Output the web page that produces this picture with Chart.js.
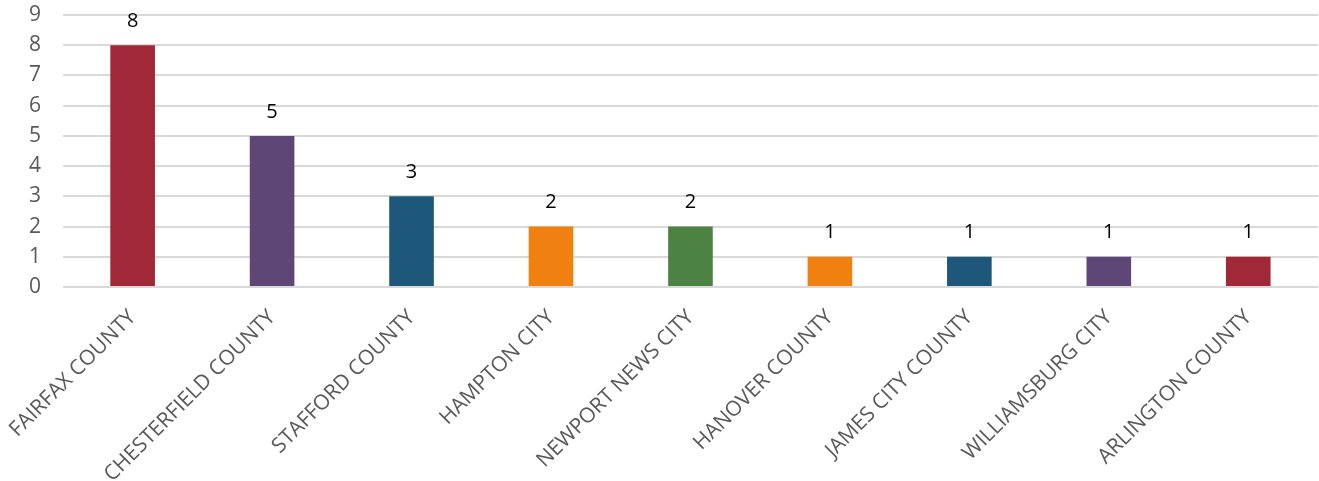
<!DOCTYPE html>
<html>
<head>
<meta charset="utf-8">
<script src="https://cdn.jsdelivr.net/npm/chart.js@4.4.0/dist/chart.umd.min.js"></script>
<style>
html,body{margin:0;padding:0;background:#fff;}
#wrap{width:1319px;height:481px;position:relative;}
</style>
</head>
<body>
<div id="wrap"><canvas id="c"></canvas></div>
<script>
const categories = ["FAIRFAX COUNTY","CHESTERFIELD COUNTY","STAFFORD COUNTY","HAMPTON CITY","NEWPORT NEWS CITY","HANOVER COUNTY","JAMES CITY COUNTY","WILLIAMSBURG CITY","ARLINGTON COUNTY"];
const counts = [8,5,3,2,2,1,1,1,1];
const barColors = ["#A12937","#5E4777","#1D587B","#F08010","#4C8342","#F08010","#1D587B","#5E4777","#A12937"];
const yTicks = [0,1,2,3,4,5,6,7,8,9];

const valueLabels = {
  id:'valueLabels',
  afterDatasetsDraw(chart){
    const ctx = chart.ctx;
    const meta = chart.getDatasetMeta(0);
    ctx.save();
    ctx.font = '20px "Open Sans"';
    ctx.fillStyle = '#000';
    ctx.textAlign = 'center';
    ctx.textBaseline = 'middle';
    meta.data.forEach((bar,i)=>{
      ctx.fillText(String(counts[i]), bar.x, bar.y - 24);
    });
    ctx.restore();
  }
};

new Chart(document.getElementById('c'),{
  type:'bar',
  data:{labels:categories,datasets:[{data:counts,backgroundColor:barColors,barPercentage:0.32,categoryPercentage:1}]},
  options:{
    responsive:true,maintainAspectRatio:false,animation:false,
    layout:{padding:{top:15,right:1,left:27,bottom:0}},
    plugins:{legend:{display:false},tooltip:{enabled:false}},
    scales:{
      x:{
        grid:{display:false},
        border:{display:false},
        ticks:{color:'#595959',font:{family:'Open Sans',size:21},maxRotation:45,minRotation:45,autoSkip:false,padding:10},
        afterFit(a){a.height=194;}
      },
      y:{
        min:0,max:9,
        afterBuildTicks(a){a.ticks=yTicks.map(v=>({value:v}));},
        grid:{color:'#D9D9D9',lineWidth:2,drawTicks:false},
        border:{display:false},
        ticks:{color:'#595959',font:{family:'Open Sans',size:21},padding:0,crossAlign:'far'},
        afterFit(a){a.width=34;}
      }
    }
  },
  plugins:[valueLabels]
});
</script>
</body>
</html>
